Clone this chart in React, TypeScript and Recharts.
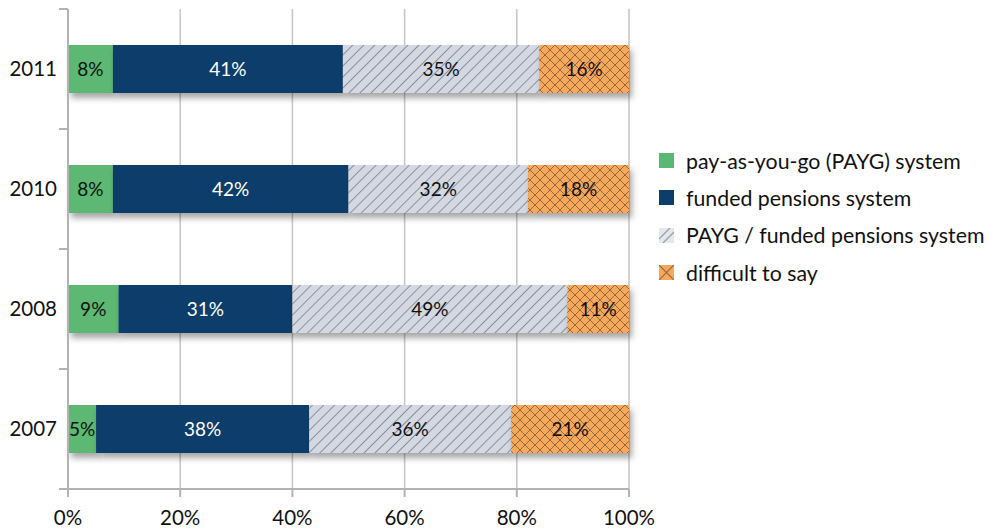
import React from 'react';
import { BarChart, Bar, XAxis, YAxis, CartesianGrid, LabelList, Legend } from 'recharts';

const years = ['2011', '2010', '2008', '2007'];
const payg = [8, 8, 9, 5];
const funded = [41, 42, 31, 38];
const mixed = [35, 32, 49, 36];
const difficult = [16, 18, 11, 21];
const xTicks = [0, 20, 40, 60, 80, 100];

const seriesNames = [
  'pay-as-you-go (PAYG) system',
  'funded pensions system',
  'PAYG / funded pensions system',
  'difficult to say',
];

const data = years.map((y, i) => ({
  year: y,
  payg: payg[i],
  funded: funded[i],
  mixed: mixed[i],
  difficult: difficult[i],
}));

const FONT = 'Lato, "Open Sans", sans-serif';
const AXIS = '#b3b3b3';

const ShadowRect = (props: any) => {
  const { x, y, width, height, fill } = props;
  if (!width || width <= 0) return null;
  return <rect x={x} y={y} width={width} height={height} fill={fill} filter="url(#barShadow)" />;
};

const YTick = (props: any) => {
  const { x, y, payload, index, visibleTicksCount } = props;
  const off = payload && typeof payload.offset === 'number' && payload.offset > 0 ? payload.offset : 60;
  const lx1 = x + 2;
  const lx2 = x + 11;
  return (
    <g>
      <line x1={lx1} x2={lx2} y1={y - off} y2={y - off} stroke={AXIS} strokeWidth={2} />
      {index === (visibleTicksCount ?? 4) - 1 && (
        <line x1={lx1} x2={lx2} y1={y + off} y2={y + off} stroke={AXIS} strokeWidth={2} />
      )}
      <text x={x} y={y} dy="0.35em" textAnchor="end" fontFamily={FONT} fontSize={20.5} fill="#111">
        {payload.value}
      </text>
    </g>
  );
};

const swatchFill = ['#5bb872', '#0b3e6b', 'url(#hatchLegend)', 'url(#crossLegend)'];

const LegendContent = () => (
  <div style={{ fontFamily: FONT, fontSize: 21.3, color: '#111', whiteSpace: 'nowrap' }}>
    {seriesNames.map((n, i) => (
      <div key={n} style={{ display: 'flex', alignItems: 'center', height: 37.3 }}>
        <svg width={15} height={15} style={{ marginRight: 12, flex: 'none' }}>
          <rect x={0} y={0} width={15} height={15} fill={swatchFill[i]} />
        </svg>
        <span>{n}</span>
      </div>
    ))}
  </div>
);

export default function App() {
  return (
    <div style={{ position: 'absolute', left: 0, top: 0, width: 988, height: 530, background: '#fff' }}>
      <svg width={0} height={0} style={{ position: 'absolute' }}>
        <defs>
          <pattern id="hatch" patternUnits="userSpaceOnUse" width={7.8} height={7.8} patternTransform="rotate(45)">
            <rect x={-1} y={-1} width={9.8} height={9.8} fill="#d3d8e2" />
            <line x1={0.5} y1={0} x2={0.5} y2={7.8} stroke="#858891" strokeWidth={0.9} />
          </pattern>
          <pattern id="cross" patternUnits="userSpaceOnUse" width={10} height={10}>
            <rect x={0} y={0} width={10} height={10} fill="#f9a85a" />
            <path d="M0,0 L10,10 M10,0 L0,10" stroke="#8e6a45" strokeWidth={1} />
          </pattern>
          <pattern id="hatchLegend" patternUnits="userSpaceOnUse" width={15} height={15}>
            <rect x={0} y={0} width={15} height={15} fill="#e4e7ec" />
            <path d="M0,11 L11,0 M4,15 L15,4" stroke="#9a9da3" strokeWidth={1.3} />
          </pattern>
          <pattern id="crossLegend" patternUnits="userSpaceOnUse" width={15} height={15}>
            <rect x={0} y={0} width={15} height={15} fill="#f9a85a" />
            <path d="M0,0 L15,15 M15,0 L0,15" stroke="#8e6a45" strokeWidth={1.2} />
          </pattern>
          <filter id="barShadow" x="-10%" y="-20%" width="130%" height="160%">
            <feDropShadow dx={3} dy={5} stdDeviation={3} floodColor="#000" floodOpacity={0.35} />
          </filter>
        </defs>
      </svg>
      <BarChart
        width={988}
        height={530}
        data={data}
        layout="vertical"
        margin={{ top: 9, right: 359, bottom: 0, left: 8 }}
        barSize={48}
      >
        <CartesianGrid horizontal={false} stroke="#c4c4c4" strokeWidth={1.5} />
        <XAxis
          type="number"
          domain={[0, 100]}
          ticks={xTicks}
          tickFormatter={(v: number) => `${v}%`}
          height={41}
          tickSize={8}
          tickMargin={13}
          interval={0}
          axisLine={{ stroke: AXIS, strokeWidth: 2 }}
          tickLine={{ stroke: AXIS, strokeWidth: 2 }}
          tick={{ fontFamily: FONT, fontSize: 20.5, fill: '#111' }}
        />
        <YAxis
          type="category"
          dataKey="year"
          width={60}
          tickSize={9}
          tickMargin={2}
          tickLine={false}
          interval={0}
          axisLine={{ stroke: AXIS, strokeWidth: 2 }}
          tick={<YTick />}
        />
        <Legend
          layout="vertical"
          align="center"
          verticalAlign="middle"
          content={<LegendContent />}
          wrapperStyle={{ position: 'absolute', left: 659, top: 142, width: 330 }}
        />
        <Bar dataKey="payg" name={seriesNames[0]} stackId="a" fill="#5bb872" shape={<ShadowRect />} isAnimationActive={false}>
          <LabelList dataKey="payg" position="center" formatter={(v: any) => `${v}%`} fill="#111" fontFamily={FONT} fontSize={19} />
        </Bar>
        <Bar dataKey="funded" name={seriesNames[1]} stackId="a" fill="#0b3e6b" shape={<ShadowRect />} isAnimationActive={false}>
          <LabelList dataKey="funded" position="center" formatter={(v: any) => `${v}%`} fill="#fff" fontFamily={FONT} fontSize={19} />
        </Bar>
        <Bar dataKey="mixed" name={seriesNames[2]} stackId="a" fill="url(#hatch)" shape={<ShadowRect />} isAnimationActive={false}>
          <LabelList dataKey="mixed" position="center" formatter={(v: any) => `${v}%`} fill="#111" fontFamily={FONT} fontSize={19} />
        </Bar>
        <Bar dataKey="difficult" name={seriesNames[3]} stackId="a" fill="url(#cross)" shape={<ShadowRect />} isAnimationActive={false}>
          <LabelList dataKey="difficult" position="center" formatter={(v: any) => `${v}%`} fill="#111" fontFamily={FONT} fontSize={19} />
        </Bar>
      </BarChart>
    </div>
  );
}
